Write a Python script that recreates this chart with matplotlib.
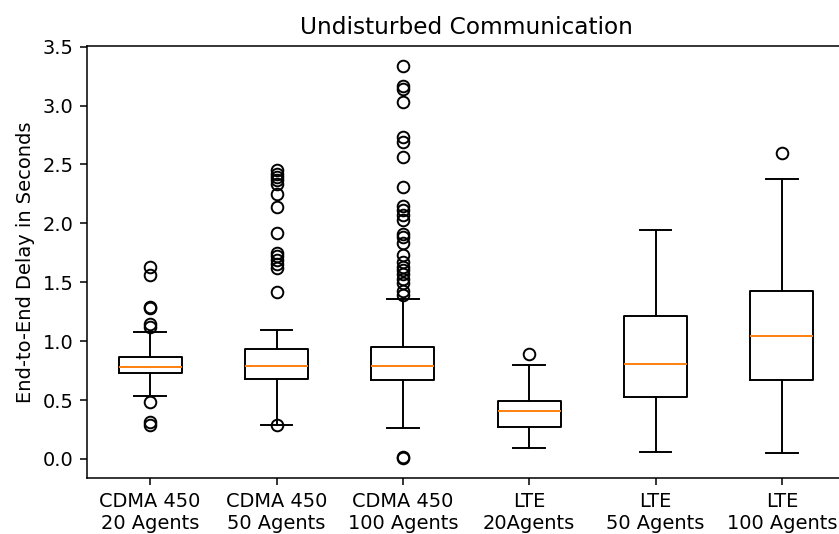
import matplotlib
matplotlib.use("Agg")
import matplotlib.pyplot as plt

labels = ["CDMA 450\n20 Agents", "CDMA 450\n50 Agents", "CDMA 450\n100 Agents",
          "LTE\n20Agents", "LTE\n50 Agents", "LTE\n100 Agents"]

medians = [0.78, 0.786, 0.788, 0.41, 0.81, 1.045]
q1 = [0.726, 0.678, 0.667, 0.274, 0.525, 0.667]
q3 = [0.867, 0.93, 0.952, 0.49, 1.212, 1.426]
whis_lo = [0.537, 0.288, 0.263, 0.09, 0.062, 0.048]
whis_hi = [1.079, 1.093, 1.356, 0.80, 1.946, 2.379]

fliers_cdma20 = [1.63, 1.56, 1.29, 1.285, 1.144, 1.116, 0.486, 0.316, 0.288]
fliers_cdma50 = [2.449, 2.42, 2.39, 2.364, 2.336, 2.25, 2.14, 1.918, 1.748, 1.72,
                 1.69, 1.658, 1.624, 1.418, 0.288]
fliers_cdma100 = [3.339, 3.17, 3.14, 3.028, 2.73, 2.69, 2.56, 2.31, 2.15, 2.11,
                  2.07, 2.025, 1.91, 1.88, 1.83, 1.73, 1.67, 1.63, 1.60, 1.57,
                  1.53, 1.49, 1.43, 1.39, 0.015, 0.005]
fliers_lte20 = [0.895]
fliers_lte50 = []
fliers_lte100 = [2.596]
fliers = [fliers_cdma20, fliers_cdma50, fliers_cdma100,
          fliers_lte20, fliers_lte50, fliers_lte100]

stats = []
for i in range(len(labels)):
    stats.append(dict(med=medians[i], q1=q1[i], q3=q3[i],
                      whislo=whis_lo[i], whishi=whis_hi[i],
                      fliers=fliers[i], label=labels[i]))

DPI = 139.5
fig = plt.figure(figsize=(839 / DPI, 534 / DPI), dpi=DPI)
ax = fig.add_axes([87 / 839, 56 / 534, 758 / 839, 432 / 534])
ax.bxp(stats, showfliers=True)
ax.set_title("Undisturbed Communication")
ax.set_ylabel("End-to-End Delay in Seconds")
fig.savefig("out.png", dpi=DPI)
